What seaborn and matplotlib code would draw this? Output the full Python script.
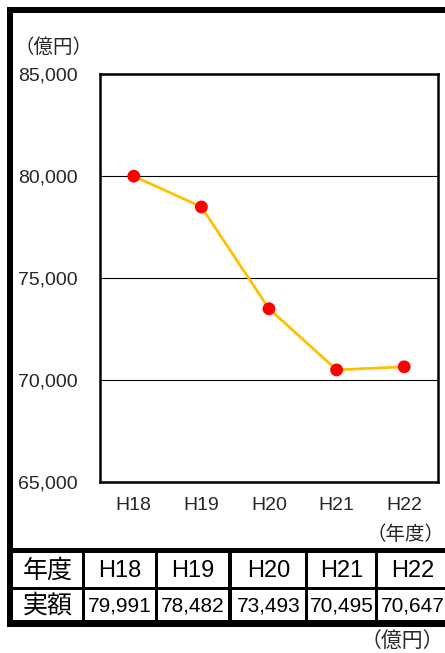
import matplotlib.pyplot as plt
import seaborn as sns
import pandas as pd
from matplotlib.patches import Rectangle

# data
years = ['H18', 'H19', 'H20', 'H21', 'H22']
amounts = [79991, 78482, 73493, 70495, 70647]
y_ticks = [65000, 70000, 75000, 80000, 85000]
row_titles = ['年度', '実額']
unit_label = '（億円）'
year_label = '（年度）'

sns.set_style("white")
plt.rcParams['font.family'] = ['Liberation Sans', 'Noto Sans CJK JP']

W, H = 445, 653
fig = plt.figure(figsize=(W / 100, H / 100), dpi=100)

# frame + table layer, in pixel coordinates
bg = fig.add_axes([0, 0, 1, 1])
bg.set_xlim(0, W)
bg.set_ylim(H, 0)
bg.axis('off')
bg.add_patch(Rectangle((7, 7), W, 620, color='black', lw=0))
bg.add_patch(Rectangle((13, 13), W, 535, color='white', lw=0))

col_edges = [(13, 82), (85, 155), (158, 228), (232, 305), (308, 375), (378, W + 10)]
row_edges = [(553, 587), (590, 620)]
row_texts = [years, [f'{v:,}' for v in amounts]]
row_sizes = [17, 15]
for r, (y0, y1) in enumerate(row_edges):
    for c, (x0, x1) in enumerate(col_edges):
        bg.add_patch(Rectangle((x0, y0), x1 - x0, y1 - y0, color='white', lw=0))
        if c == 0:
            txt, size = row_titles[r], 18
        else:
            txt, size = row_texts[r][c - 1], row_sizes[r]
        bg.text((x0 + x1) / 2 if c < 5 else 413, (y0 + y1) / 2 + 1, txt,
                ha='center', va='center', fontsize=size, color='black')

bg.text(14, 48, unit_label, ha='left', va='center', fontsize=14)
bg.text(444, 535, year_label, ha='right', va='center', fontsize=14)
bg.text(444, 641, unit_label, ha='right', va='center', fontsize=15)

# line chart
ax = fig.add_axes([100 / W, 1 - 482 / H, 338 / W, 408 / H])
df = pd.DataFrame({'pos': range(len(years)), 'amount': amounts})
sns.lineplot(data=df, x='pos', y='amount', color='#FFC000', lw=2, ax=ax, zorder=2)
sns.scatterplot(data=df, x='pos', y='amount', color='red', s=85,
                edgecolor='none', zorder=3, ax=ax)

ax.set_xlim(-0.5, len(years) - 0.5)
ax.set_ylim(y_ticks[0], y_ticks[-1])
ax.set_xlabel('')
ax.set_ylabel('')
for s in ax.spines.values():
    s.set_color('black')
    s.set_linewidth(1.8)

ax.set_yticks(y_ticks)
ax.set_yticklabels([f'{v:,}' for v in y_ticks], ha='left', fontsize=14)
ax.tick_params(axis='y', length=0, pad=59)
ax.yaxis.grid(True, color='black', lw=0.8)

ax.set_xticks([i + 0.5 for i in range(len(years) - 1)])
ax.set_xticklabels([])
ax.tick_params(axis='x', which='major', direction='in', length=4, width=1, color='black')
ax.set_xticks(range(len(years)), minor=True)
ax.set_xticklabels(years, minor=True, fontsize=14)
ax.tick_params(axis='x', which='minor', length=0, pad=11)

fig.savefig('out.png', dpi=100)
